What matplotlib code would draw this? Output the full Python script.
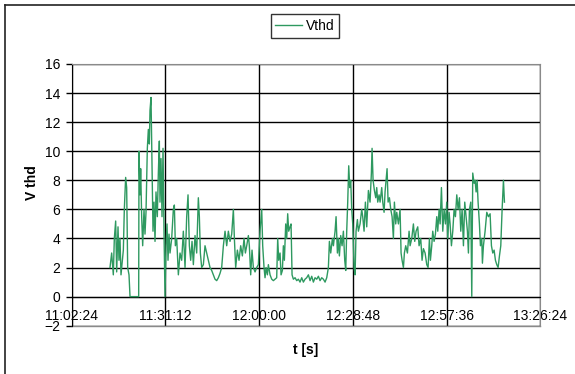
import matplotlib
matplotlib.use('Agg')
import matplotlib.pyplot as plt
from matplotlib.ticker import FuncFormatter
from matplotlib.lines import Line2D

plt.rcParams['font.family'] = ['Liberation Sans', 'DejaVu Sans']

# time in minutes after 11:00:00, Vthd values
t_min = [14.20, 14.71, 15.22, 15.53, 15.94, 16.25, 16.66, 16.96, 17.27, 17.58,
         17.99, 18.30, 18.60, 19.01, 19.32, 19.63, 20.04, 20.35, 23.01, 23.11,
         23.42, 23.62, 23.93, 24.24, 24.65, 24.95, 25.26, 25.67, 25.98, 26.29,
         26.49, 26.80, 27.11, 27.41, 27.72, 28.03, 28.33, 28.74, 29.05, 29.36,
         29.56, 29.87, 30.18, 30.49, 30.79, 31.10, 31.41, 31.71, 32.02, 32.33,
         32.64, 33.15, 33.66, 33.97, 34.28, 34.69, 35.20, 35.71, 36.22, 36.73,
         37.25, 37.76, 38.17, 38.58, 38.99, 39.40, 39.81, 40.32, 40.83, 41.34,
         41.65, 41.96, 42.37, 42.88, 43.39, 43.90, 44.42, 44.93, 45.44, 45.95,
         46.46, 46.98, 47.49, 48.00, 48.51, 49.03, 49.54, 50.05, 50.56, 51.07,
         51.59, 52.10, 52.41, 52.81, 53.33, 53.84, 54.35, 54.86, 55.38, 55.79,
         56.20, 56.71, 57.01, 57.42, 57.83, 58.24, 58.76, 59.27, 59.78,
         60.29, 60.81, 61.11, 61.52, 61.83, 62.14, 62.55, 62.85, 63.37, 63.88,
         64.39, 64.90, 65.41, 65.72, 66.03, 66.44, 66.75, 67.16, 67.46, 67.77,
         68.18, 68.49, 68.79, 69.10, 69.51, 69.82, 70.13, 70.54, 71.05, 71.56,
         72.07, 72.58, 73.10, 73.61, 74.12, 74.63, 75.15, 75.66, 76.17, 76.68,
         77.19, 77.71, 78.22, 78.73, 79.24, 79.75, 80.27, 80.78, 81.29, 81.60,
         82.01, 82.52, 82.83, 83.34, 83.65, 84.06, 84.36, 84.67, 85.08, 85.49,
         85.90, 86.31, 86.62, 86.92, 87.23, 87.54, 87.85, 88.15, 88.46, 88.77,
         89.18, 89.49, 89.79, 90.20, 90.51, 91.02, 91.53, 91.84, 92.25, 92.66,
         93.07, 93.58, 94.09, 94.50, 94.71, 95.02, 95.43, 95.84, 96.14, 96.45,
         96.86, 97.17, 97.68, 97.99, 98.40, 98.70, 99.01, 99.32, 99.63, 100.04,
         100.45, 100.86, 101.26, 101.57, 101.98, 102.29, 102.80, 103.31, 103.62, 103.93,
         104.34, 104.64, 105.05, 105.57, 106.08, 106.39, 106.90, 107.41, 107.82, 108.23,
         108.74, 109.15, 109.66, 110.07, 110.48, 111.00, 111.51, 111.92, 112.33, 112.63,
         113.04, 113.35, 113.76, 114.17, 114.58, 114.89, 115.30, 115.61, 116.02, 116.43,
         116.84, 117.25, 117.65, 117.96, 118.37, 118.68, 119.09, 119.50, 119.91, 120.32,
         120.73, 121.14, 121.55, 121.96, 122.37, 122.78, 123.18, 123.59, 124.00, 124.31,
         124.62, 125.03, 125.34, 125.64, 126.05, 126.36, 126.67, 126.98, 127.28, 127.69,
         128.00, 128.41, 128.61, 128.92, 129.43, 129.95, 130.46, 130.97, 131.38, 131.79,
         132.20, 132.61, 133.02, 133.43, 133.84, 134.25, 134.66, 135.07, 135.38]

vthd = [2.0, 3.0, 1.5, 4.0, 5.2, 1.7, 4.8, 2.5, 4.0, 1.5,
        2.5, 3.2, 6.0, 8.2, 7.5, 2.0, 1.5, 0.0, 0.0, 10.0,
        7.0, 8.8, 5.5, 3.5, 6.0, 4.3, 5.8, 10.2, 11.5, 10.5,
        12.8, 13.7, 9.0, 4.5, 6.5, 3.8, 7.2, 5.5, 8.5, 10.7,
        6.5, 9.5, 5.5, 10.2, 4.5, 0.0, 3.5, 5.0, 2.5, 4.3,
        3.0, 4.0, 6.0, 6.3, 3.5, 4.0, 1.5, 3.0, 2.5, 4.5,
        2.0, 5.5, 7.0, 3.5, 2.5, 3.8, 2.2, 4.2, 3.0, 6.8,
        5.5, 3.0, 2.0, 2.2, 3.5, 3.0, 2.5, 2.0, 1.8, 1.5,
        1.2, 1.1, 1.3, 1.6, 2.0, 3.5, 4.5, 3.5, 4.5, 3.8,
        4.3, 6.0, 4.0, 2.0, 3.2, 2.5, 3.5, 2.8, 4.0, 3.0,
        3.5, 4.2, 3.5, 1.5, 3.2, 2.0, 1.7, 2.0, 2.2,
        4.5, 6.0, 3.5, 2.0, 1.3, 2.0, 1.5, 2.2, 1.5, 1.2,
        1.1, 1.2, 1.3, 4.0, 2.5, 3.0, 1.5, 1.8, 3.5, 2.5,
        5.0, 4.0, 5.7, 4.5, 4.8, 5.0, 1.5, 1.2, 1.3, 1.1,
        1.2, 1.0, 1.3, 1.0, 1.2, 1.3, 1.5, 1.1, 1.4, 1.0,
        1.3, 1.2, 1.4, 1.1, 1.3, 1.2, 1.0, 1.3, 2.0, 3.8,
        3.0, 4.0, 3.5, 4.5, 5.5, 3.0, 4.0, 2.8, 4.2, 3.5,
        4.5, 2.5, 1.8, 4.5, 6.5, 9.0, 7.5, 8.0, 6.0, 5.0,
        2.0, 1.5, 4.5, 5.3, 4.5, 5.0, 6.0, 5.5, 4.5, 6.5,
        4.8, 7.3, 6.5, 8.5, 10.2, 8.0, 7.3, 6.8, 7.5, 6.5,
        7.0, 6.5, 7.5, 6.5, 5.8, 7.2, 8.0, 8.8, 6.5, 6.8,
        6.0, 5.5, 4.0, 6.5, 5.0, 5.8, 5.0, 6.0, 3.0, 2.5,
        2.0, 3.0, 3.5, 3.0, 4.5, 3.5, 4.0, 5.0, 3.8, 4.5,
        4.8, 3.5, 4.0, 2.5, 3.3, 3.0, 2.2, 2.0, 4.0, 2.5,
        3.5, 4.5, 3.8, 4.3, 5.5, 4.5, 6.0, 5.0, 7.5, 4.5,
        6.0, 5.0, 6.5, 4.0, 5.8, 5.0, 3.5, 4.5, 6.0, 5.5,
        7.0, 6.0, 6.8, 4.5, 6.0, 3.5, 6.5, 5.5, 4.5, 3.0,
        6.0, 6.5, 0.0, 8.5, 7.8, 8.0, 7.2, 8.0, 6.5, 5.0,
        3.5, 4.0, 2.3, 3.5, 4.5, 5.8, 5.5, 5.7, 3.5, 3.0,
        3.2, 2.5, 2.2, 2.0, 2.8, 3.5, 6.0, 8.0, 6.5]

x_ticks = [2.4, 31.2, 60.0, 88.8, 117.6, 146.4]
y_ticks = [-2, 0, 2, 4, 6, 8, 10, 12, 14, 16]


def hms(m, pos=None):
    s = int(round(11 * 3600 + m * 60))
    return '%d:%02d:%02d' % (s // 3600, s % 3600 // 60, s % 60)


fig = plt.figure(figsize=(5.75, 3.74), dpi=100)
ax = fig.add_axes([0.1245, 0.1291, 0.8152, 0.6998])

ax.plot(t_min, vthd, color='#2e9960', lw=1.0, label='Vthd', zorder=3)

ax.set_xlim(x_ticks[0], x_ticks[-1])
ax.set_ylim(-2, 16)
ax.set_xticks(x_ticks)
ax.xaxis.set_major_formatter(FuncFormatter(hms))
ax.set_yticks(y_ticks)
ax.grid(True, color='black', lw=1.0)

ax.spines['left'].set_color('black')
ax.spines['bottom'].set_position(('data', 0))
ax.spines['bottom'].set_color('black')
for s in ['top', 'right']:
    ax.spines[s].set_color('#8a8a8a')
# lower edge of plot area
ax.plot([0, 1], [0, 0], transform=ax.transAxes, color='#8a8a8a', lw=1.0, clip_on=False, zorder=2.5)

ax.tick_params(axis='x', length=0, pad=9, labelsize=10)
ax.tick_params(axis='y', length=4, width=1, direction='out', pad=4, labelsize=10)

fig.text(32 / 575, 1 - 183 / 374, 'V thd', rotation=90, ha='center', va='center',
         fontweight='bold', fontsize=10)
fig.text(306 / 575, 1 - 350 / 374, 't [s]', ha='center', va='center',
         fontweight='bold', fontsize=10)

leg = fig.legend(loc='center', bbox_to_anchor=(305 / 575, 1 - 26 / 374), fontsize=10,
                 frameon=True, fancybox=False, edgecolor='black', handlelength=1.9,
                 handletextpad=0.3, borderpad=0.35, borderaxespad=0)
leg.get_frame().set_linewidth(1.0)

# outer chart frame
fig.add_artist(Line2D([5 / 575, 5 / 575], [0, 1 - 5 / 374], color='#222222', lw=1.2))
fig.add_artist(Line2D([5 / 575, 1], [1 - 5 / 374, 1 - 5 / 374], color='#222222', lw=1.2))

fig.savefig('out.png', dpi=100)
